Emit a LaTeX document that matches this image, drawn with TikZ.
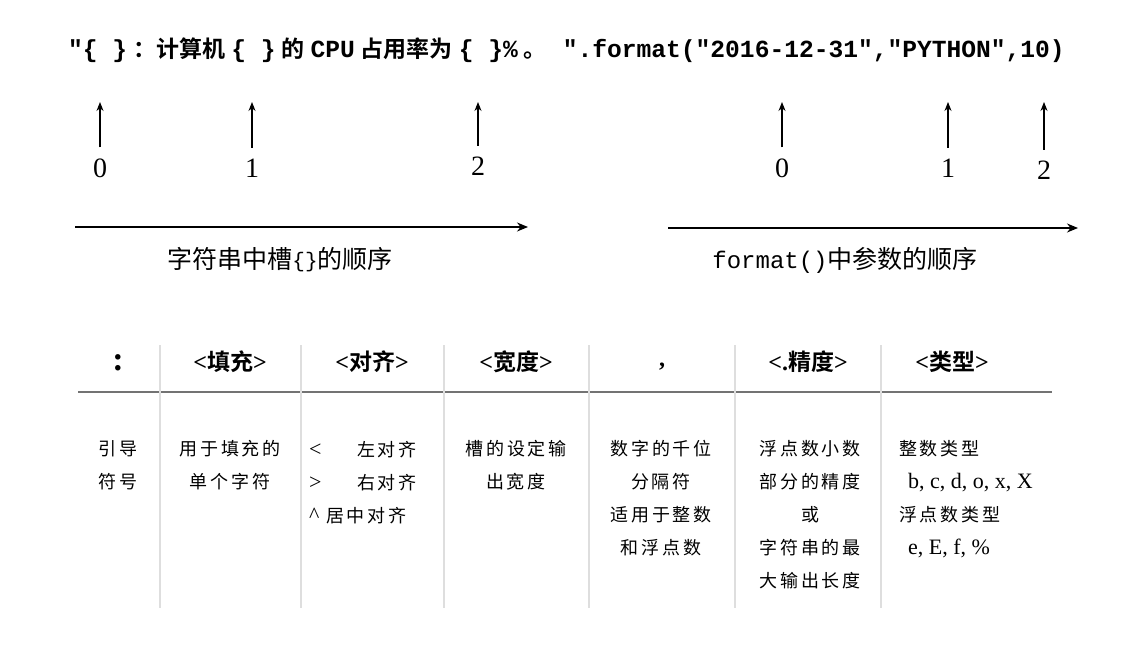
\documentclass[tikz,border=0pt]{standalone}
\usepackage{fontspec}
\setmainfont{Liberation Serif}
\setmonofont{Liberation Mono}
\newfontfamily\zh{Noto Sans CJK SC}[BoldFont={Noto Sans CJK SC Bold}]
\newfontfamily\zhk{Noto Sans CJK SC}[LetterSpace=15]
\usetikzlibrary{arrows.meta}
\newcommand\zhs[2]{{\zh\fontsize{#1}{#1}\selectfont #2}}
\newcommand\cjkgap{\hspace{6pt}}
\begin{document}
\begin{tikzpicture}[>={Stealth[length=9pt,width=7pt]},x=1pt,y=-1pt,
    num/.style={font=\fontsize{28}{30}\selectfont,inner sep=0pt},
    up/.style={->,line width=1.1pt,shorten <=11pt},
    order/.style={-{Stealth[length=11pt,width=9pt]},line width=1.4pt},
    head/.style={font=\bfseries\fontsize{24}{26}\selectfont,anchor=base,inner sep=0pt},
    cell/.style={font=\zhk\fontsize{18}{33}\selectfont,align=center,anchor=north,inner sep=0pt},
    sep/.style={black!13,line width=1.5pt}]
  \useasboundingbox (0,0) rectangle (1126,661);
  \def\ytip{102} % tips of the small arrows
  \node[anchor=base west,inner sep=0pt] (code) at (68,58) {\ttfamily\bfseries\fontsize{24.6}{28}\selectfont
    "\{ \}\cjkgap\zhs{23}{：计算机}\cjkgap\{ \}\cjkgap\zhs{23}{的}\cjkgap CPU\cjkgap\zhs{23}{占用率为}\cjkgap\{ \}\%\cjkgap\zhs{23}{。}\hspace{16pt}".format("2016-12-31","PYTHON",10)};
  % slots of the string
  \node[num] (s0) at (100,168) {0};
  \node[num] (s1) at (252,168) {1};
  \node[num] (s2) at (478,166) {2};
  \coordinate (ts0) at (100,\ytip);
  \coordinate (ts1) at (252,\ytip);
  \coordinate (ts2) at (478,\ytip);
  \draw[up] (s0) -- (ts0);
  \draw[up] (s1) -- (ts1);
  \draw[up] (s2) -- (ts2);
  % arguments of format()
  \node[num] (p0) at (782,168) {0};
  \node[num] (p1) at (948,168) {1};
  \node[num] (p2) at (1044,170) {2};
  \coordinate (tp0) at (782,\ytip);
  \coordinate (tp1) at (948,\ytip);
  \coordinate (tp2) at (1044,\ytip);
  \draw[up] (p0) -- (tp0);
  \draw[up] (p1) -- (tp1);
  \draw[up] (p2) -- (tp2);
  \coordinate (sa) at (75,227);
  \coordinate (sb) at (528,227);
  \coordinate (pa) at (668,228);
  \coordinate (pb) at (1078,228);
  \draw[order] (sa) -- (sb);
  \draw[order] (pa) -- (pb);
  \node[anchor=base] (slotlbl) at (280,268) {\zh\fontsize{25}{28}\selectfont 字符串中槽{\ttfamily\fontsize{21}{20}\selectfont\raisebox{1pt}{\{\}}}的顺序};
  \node[anchor=base] (arglbl) at (845,268) {\ttfamily\fontsize{24}{28}\selectfont format()\zh\fontsize{25}{28}\selectfont 中参数的顺序};
  % the table
  \draw[black!55,line width=1.8pt] (78,392) -- (1052,392);
  \foreach \x in {160,301,444,589,735,881}
    \draw[sep] (\x,345) -- (\x,608);
  \node[font=\bfseries\fontsize{34}{36}\selectfont,inner sep=0pt] (hcolon) at (118,363) {:};
  \node[head] (hfill) at (230,370) {<\zhs{23}{填充}>};
  \node[head] (halign) at (372,370) {<\zhs{23}{对齐}>};
  \node[head] (hwidth) at (516,370) {<\zhs{23}{宽度}>};
  \node[head] (hcomma) at (662,366) {,};
  \node[head] (hprec) at (808,370) {<.\zhs{23}{精度}>};
  \node[head] (htype) at (952,370) {<\zhs{23}{类型}>};
  \node[cell] (dcolon) at (118,440) {引导\\符号};
  \node[cell] (dfill) at (230,440) {用于填充的\\单个字符};
  \node[cell,anchor=north west] (dalign) at (309,433) {\begin{tabular}{@{}p{48pt}@{}r@{}}
      {\rmfamily\fontsize{22}{33}\selectfont <} & 左对齐\\
      {\rmfamily\fontsize{22}{33}\selectfont >} & 右对齐\\
      \multicolumn{2}{@{}l@{}}{{\rmfamily\fontsize{22}{33}\selectfont\textasciicircum}\ 居中对齐}
    \end{tabular}};
  \node[cell] (dwidth) at (516,440) {槽的设定输\\出宽度};
  \node[cell] (dcomma) at (661,440) {数字的千位\\分隔符\\适用于整数\\和浮点数};
  \node[cell] (dprec) at (810,440) {浮点数小数\\部分的精度\\或\\字符串的最\\大输出长度};
  \node[cell,align=left,anchor=north west] (dtype) at (899,440) {整数类型\\
    \hspace*{9pt}{\rmfamily\fontsize{22}{33}\selectfont b, c, d, o, x, X}\\
    浮点数类型\\
    \hspace*{9pt}{\rmfamily\fontsize{22}{33}\selectfont e, E, f, \%}};
\end{tikzpicture}
\end{document}
